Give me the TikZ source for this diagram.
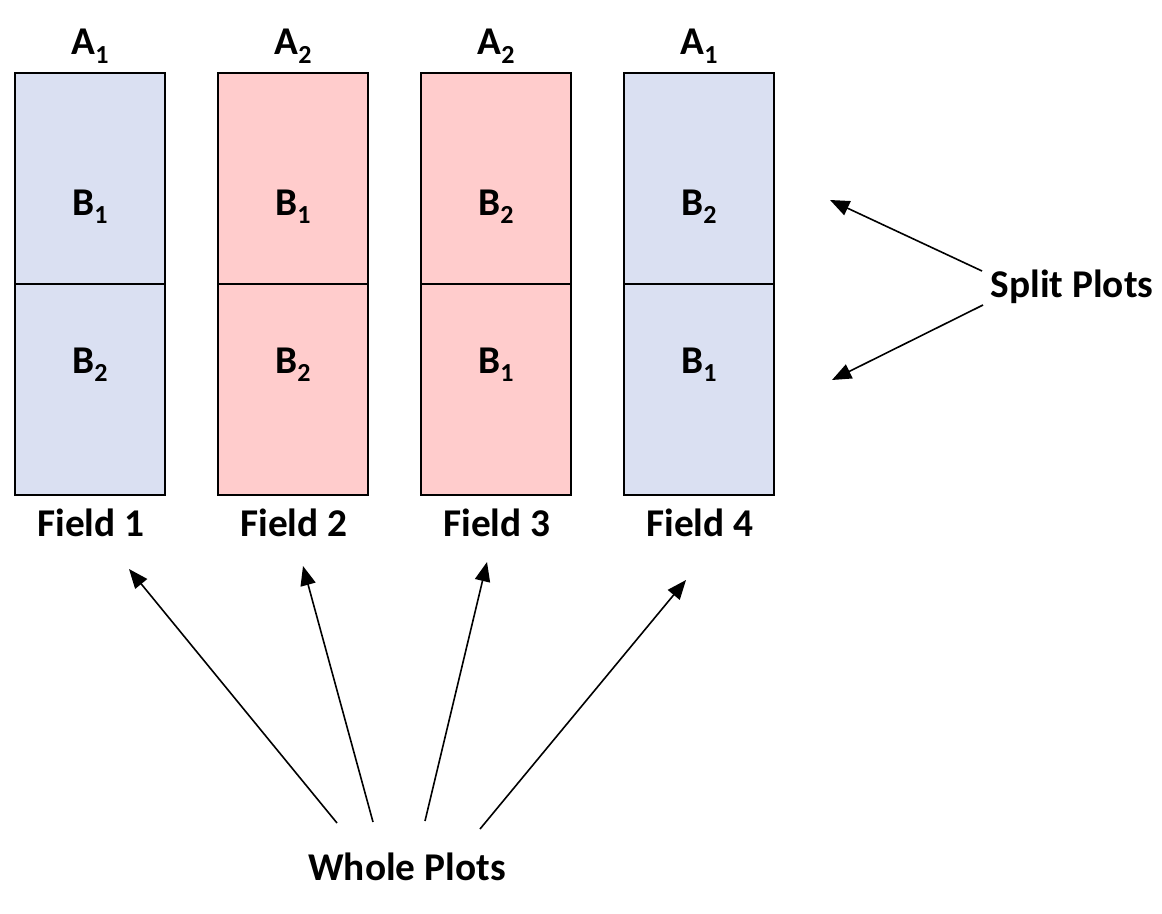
\documentclass[tikz,border=0pt]{standalone}
\usepackage{fontspec}
\setmainfont{Carlito}
\usepackage{tikz}
\usetikzlibrary{arrows.meta}

\definecolor{plotblue}{HTML}{DAE0F2}
\definecolor{plotred}{HTML}{FFCCCC}
\newcommand{\lowidx}[1]{\raisebox{-0.22em}{\fontsize{19.5}{19.5}\selectfont #1}}

\tikzset{
	half/.style={draw, line width=2pt, minimum width=112.5pt, minimum height=158.25pt, inner sep=0pt},
	lab/.style={font=\fontsize{29.5}{35}\selectfont\bfseries, inner sep=0pt, anchor=base},
	pointer/.style={-{Triangle[length=14.5pt,width=11.5pt]}, line width=1.2pt},
}

\begin{document}
\begin{tikzpicture}[x=0.75pt, y=-0.75pt]
	\useasboundingbox (0,0) rectangle (1162,913);
	
	%plots
	\node (top1)[half, fill=plotblue] at (90,178.5)                    {};
	\node (bot1)[half, fill=plotblue, below of=top1, node distance=158.25pt] {};
	\node (top2)[half, fill=plotred, right of=top1, node distance=152.25pt]  {};
	\node (bot2)[half, fill=plotred, right of=bot1, node distance=152.25pt]  {};
	\node (top3)[half, fill=plotred, right of=top2, node distance=152.25pt]  {};
	\node (bot3)[half, fill=plotred, right of=bot2, node distance=152.25pt]  {};
	\node (top4)[half, fill=plotblue, right of=top3, node distance=152.25pt] {};
	\node (bot4)[half, fill=plotblue, right of=bot3, node distance=152.25pt] {};
	
	%labels
	\node (a1)[lab] at (90,55)   {A\lowidx{1}};
	\node (a2)[lab] at (293,55)  {A\lowidx{2}};
	\node (a3)[lab] at (496,55)  {A\lowidx{2}};
	\node (a4)[lab] at (699,55)  {A\lowidx{1}};
	
	\node (b11)[lab] at (90,215)  {B\lowidx{1}};
	\node (b12)[lab] at (90,373)  {B\lowidx{2}};
	\node (b21)[lab] at (293,215) {B\lowidx{1}};
	\node (b22)[lab] at (293,373) {B\lowidx{2}};
	\node (b31)[lab] at (496,215) {B\lowidx{2}};
	\node (b32)[lab] at (496,373) {B\lowidx{1}};
	\node (b41)[lab] at (699,215) {B\lowidx{2}};
	\node (b42)[lab] at (699,373) {B\lowidx{1}};
	
	\node (f1)[lab] at (91,536)  {Field 1};
	\node (f2)[lab] at (294,536) {Field 2};
	\node (f3)[lab] at (497,536) {Field 3};
	\node (f4)[lab] at (700,536) {Field 4};
	
	\node (split)[lab] at (1072,297) {Split Plots};
	\node (whole)[lab] at (407,880)  {Whole Plots};
	
	%arrow ends
	\coordinate (s1) at (982,271);
	\coordinate (s2) at (983,305);
	\coordinate (sp1) at (830,200);
	\coordinate (sp2) at (832,380);
	
	\coordinate (w1) at (337,823);
	\coordinate (w2) at (373,822);
	\coordinate (w3) at (425,821);
	\coordinate (w4) at (480,829);
	\coordinate (wp1) at (129,569);
	\coordinate (wp2) at (303,566);
	\coordinate (wp3) at (487,562);
	\coordinate (wp4) at (686,580);
	
	%links
	\draw[pointer] (s1) to (sp1);
	\draw[pointer] (s2) to (sp2);
	\draw[pointer] (w1) to (wp1);
	\draw[pointer] (w2) to (wp2);
	\draw[pointer] (w3) to (wp3);
	\draw[pointer] (w4) to (wp4);
\end{tikzpicture}
\end{document}
